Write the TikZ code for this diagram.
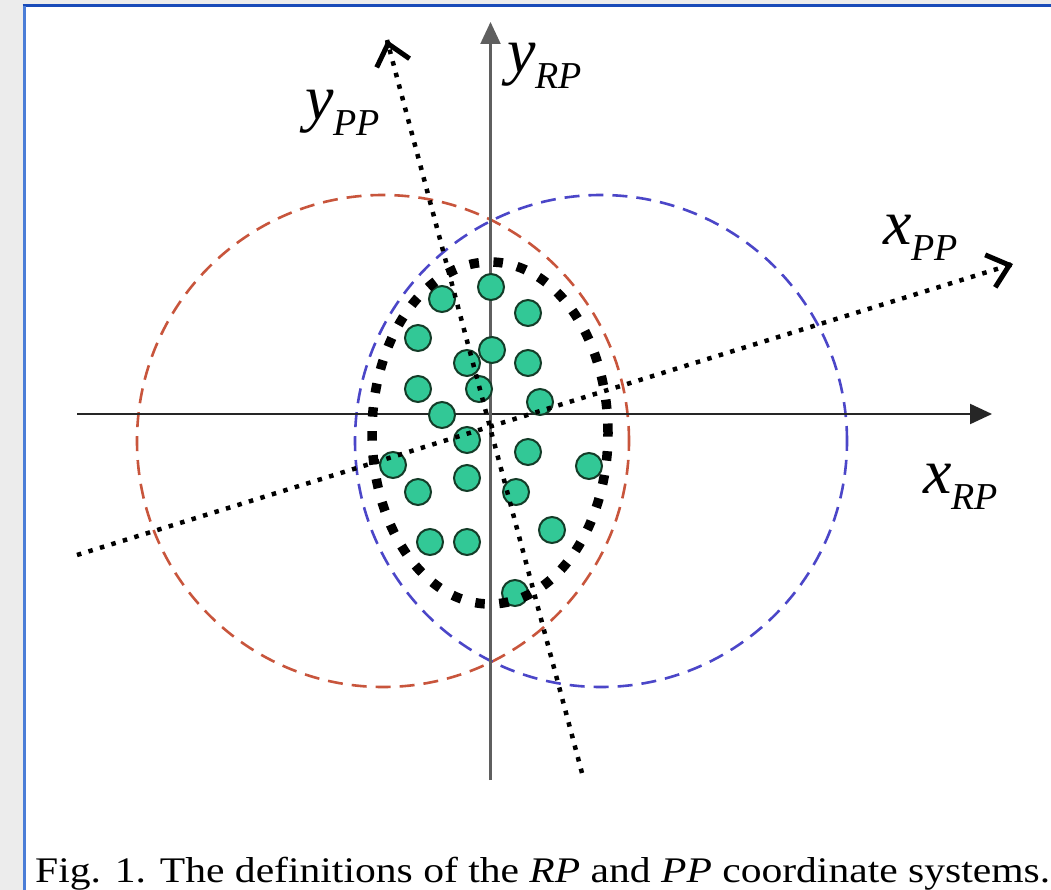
\documentclass[tikz,border=0pt]{standalone}
\usepackage{fontspec}
\setmainfont{Liberation Serif}
\usetikzlibrary{
    arrows.meta,
    positioning,
    calc
}
\definecolor{rojoCirc}{RGB}{200, 85, 60}
\definecolor{azulCirc}{RGB}{75, 70, 200}
\definecolor{verdePunto}{RGB}{50, 200, 150}
\definecolor{bordePunto}{RGB}{20, 60, 40}
\definecolor{bordeMarco}{RGB}{25, 75, 185}
\definecolor{bordeLado}{RGB}{75, 125, 215}
\definecolor{fondoGris}{RGB}{236, 236, 236}
\definecolor{ejeGris}{RGB}{95, 95, 95}

\newcommand{\axlab}[2]{%
    {\fontsize{64}{64}\selectfont\itshape #1\raisebox{-16pt}{\fontsize{38}{38}\selectfont #2}}}

\tikzset{
    ejeRP/.style={
        -{Triangle[length=22pt,width=20pt]},
        line width=2.2pt
    },
    ejePP/.style={
        line width=4.5pt, dash pattern=on 4.5pt off 7.5pt
    },
    puntaPP/.style={
        -{Straight Barb[length=20pt,width=34pt]},
        line width=5pt, solid
    },
    circRP/.style={
        line width=2.6pt, dash pattern=on 15pt off 9pt
    },
    contorno/.style={
        line width=9.5pt, dash pattern=on 9.5pt off 14.5pt
    },
    punto/.style={
        circle, draw=bordePunto, line width=2pt,
        fill=verdePunto, minimum size=26pt, inner sep=0pt
    },
    etiquetaEje/.style={
        anchor=base west, inner sep=0pt
    },
}

\begin{document}
\begin{tikzpicture}[x=1pt, y=-1pt]

    % ----------------------------------------------------------
    % FONDO Y MARCO (coordenadas en pixeles, y hacia abajo)
    % ----------------------------------------------------------
    \useasboundingbox (0,0) rectangle (1051,890);
    \fill[fondoGris] (0,0) rectangle (1051,890);
    \fill[white] (24,6) rectangle (1051,890);
    \draw[bordeMarco, line width=3pt] (22.5,6) -- (1051,6);
    \draw[bordeLado, line width=3pt] (24,6) -- (24,890);

    % ----------------------------------------------------------
    % PUNTOS DE REFERENCIA
    % ----------------------------------------------------------
    \coordinate (cRojo)   at (383, 441);
    \coordinate (cAzul)   at (601, 441);
    \coordinate (cElipse) at (490, 433);

    \coordinate (xRPini) at (77, 414);
    \coordinate (xRPfin) at (992, 414);
    \coordinate (yRPini) at (490.5, 780);
    \coordinate (yRPfin) at (490.5, 22);

    \coordinate (xPPini) at (77, 555);
    \coordinate (xPPfin) at (1013, 264);
    \coordinate (yPPini) at (582, 773);
    \coordinate (yPPfin) at (387, 40);

    % ----------------------------------------------------------
    % CIRCULOS DISCONTINUOS
    % ----------------------------------------------------------
    \draw[circRP, rojoCirc] (cRojo) circle [radius=246pt];
    \draw[circRP, azulCirc] (cAzul) circle [radius=246pt];

    % ----------------------------------------------------------
    % EJES RP
    % ----------------------------------------------------------
    \draw[ejeRP, color=black!85] (xRPini) -- (xRPfin);
    \draw[ejeRP, color=ejeGris]  (yRPini) -- (yRPfin);

    % ----------------------------------------------------------
    % PUNTOS VERDES
    % ----------------------------------------------------------
    \foreach \px/\py [count=\i] in {
        491/287, 442/299, 528/313, 418/338, 492/350, 467/363,
        528/363, 479/389, 418/389, 540/402, 442/415, 467/440,
        528/452, 393/465, 589/466, 467/478, 516/492, 418/492,
        552/530, 430/542, 467/542, 515/593}
        \node[punto] (d\i) at (\px,\py) {};

    % ----------------------------------------------------------
    % CONTORNO PUNTEADO Y EJES PP
    % ----------------------------------------------------------
    \draw[contorno] (cElipse) circle [x radius=118pt, y radius=171pt];

    \draw[ejePP] (xPPini) -- (xPPfin);
    \draw[ejePP] (yPPini) -- (yPPfin);
    % puntas abiertas, trazadas solidas
    \draw[puntaPP] ($(xPPfin)!2pt!(xPPini)$) -- (xPPfin);
    \draw[puntaPP] ($(yPPfin)!2pt!(yPPini)$) -- (yPPfin);

    % ----------------------------------------------------------
    % ETIQUETAS
    % ----------------------------------------------------------
    \node[etiquetaEje] (lyRP) at (507, 73)  {\axlab{y}{RP}};
    \node[etiquetaEje] (lyPP) at (305, 120) {\axlab{y}{PP}};
    \node[etiquetaEje] (lxPP) at (883, 245) {\axlab{x}{PP}};
    \node[etiquetaEje] (lxRP) at (923, 493) {\axlab{x}{RP}};

    \node[etiquetaEje] (pie) at (35, 882)
        {\fontsize{36}{36}\selectfont\scalebox{1.155}[1]{Fig. 1. The definitions of the \textit{RP} and \textit{PP} coordinate systems.}};

\end{tikzpicture}
\end{document}
